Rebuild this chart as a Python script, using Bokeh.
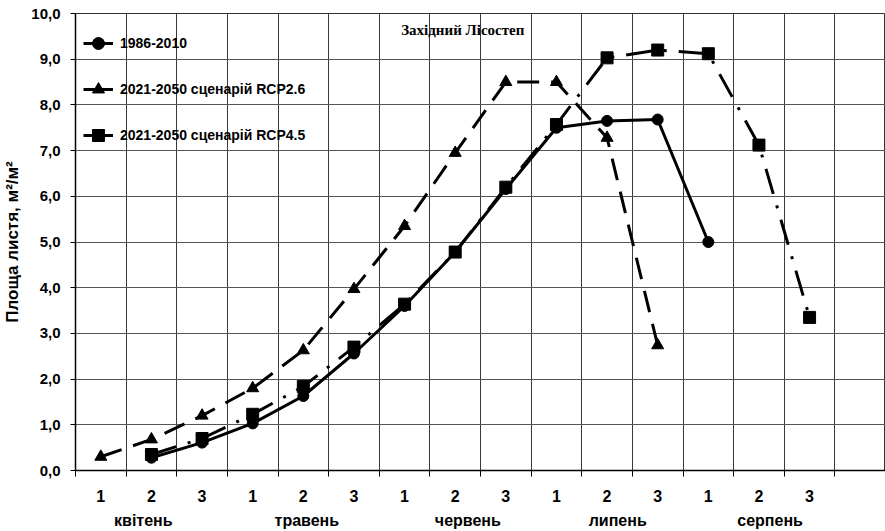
from bokeh.plotting import figure
from bokeh.models import (FixedTicker, LinearAxis, Range1d, Legend, LegendItem, Label,
                          CustomJSTickFormatter)
from bokeh.embed import file_html
from bokeh.resources import INLINE

# ---- data ----
decade_labels = ["1", "2", "3"] * 5 + [""]
months = ["квітень", "травень", "червень", "липень", "серпень"]
month_label_pos = [0.84, 4.07, 7.25, 10.21, 13.22]

base_idx = list(range(1, 13))
base_val = [0.28, 0.61, 1.03, 1.63, 2.56, 3.60, 4.78, 6.16, 7.50, 7.65, 7.68, 5.00]

rcp26_idx = list(range(0, 12))
rcp26_val = [0.30, 0.68, 1.20, 1.80, 2.63, 3.97, 5.35, 6.95, 8.50, 8.50, 7.28, 2.74]

rcp45_idx = list(range(1, 15))
rcp45_val = [0.35, 0.70, 1.23, 1.84, 2.70, 3.64, 4.78, 6.20, 7.57, 9.03, 9.20, 9.12, 7.12, 3.35]

y_ticks = list(range(0, 11))

FONT = "Liberation Sans"
NAN = float("nan")

p = figure(width=885, height=531, output_backend="svg", toolbar_location=None,
           x_range=Range1d(-0.5, 15.5), y_range=Range1d(0, 10),
           min_border_left=75, min_border_top=13, min_border_right=0, min_border_bottom=0)
p.background_fill_color = "white"
p.outline_line_color = "#333333"
p.outline_line_width = 1

# ---- x axis (decades) ----
xa = p.xaxis[0]
xa.ticker = FixedTicker(ticks=list(range(16)), minor_ticks=[i - 0.5 for i in range(17)])
xa.major_label_overrides = {i: decade_labels[i] for i in range(16)}
xa.major_tick_out = 0
xa.major_tick_in = 0
xa.minor_tick_out = 6
xa.minor_tick_in = 0
xa.minor_tick_line_color = "black"
xa.axis_line_color = "black"
xa.axis_line_width = 1.5
xa.major_label_standoff = 13
xa.major_label_text_font = FONT
xa.major_label_text_font_style = "bold"
xa.major_label_text_font_size = "16px"
xa.major_label_text_color = "black"

# ---- month axis ----
ma = LinearAxis(ticker=FixedTicker(ticks=month_label_pos, minor_ticks=[]),
                formatter=CustomJSTickFormatter(args=dict(labels=months, pos=month_label_pos),
                    code="const i = pos.findIndex(v => Math.abs(v - tick) < 1e-6); return i >= 0 ? labels[i] : '';"))
ma.axis_line_color = None
ma.major_tick_line_color = None
ma.major_tick_out = 0
ma.major_tick_in = 0
ma.minor_tick_line_color = None
ma.major_label_standoff = 7
ma.major_label_text_font = FONT
ma.major_label_text_font_style = "bold"
ma.major_label_text_font_size = "16px"
ma.major_label_text_color = "black"
p.add_layout(ma, "below")

# ---- y axis ----
ya = p.yaxis[0]
ya.ticker = FixedTicker(ticks=y_ticks, minor_ticks=[])
ya.major_label_overrides = {v: f"{v},0" for v in y_ticks}
ya.major_tick_out = 5
ya.major_tick_in = 0
ya.major_tick_line_color = "black"
ya.axis_line_color = "black"
ya.axis_line_width = 1.5
ya.major_label_standoff = 10
ya.major_label_text_font = FONT
ya.major_label_text_font_style = "bold"
ya.major_label_text_font_size = "15px"
ya.major_label_text_color = "black"
ya.axis_label = "Площа листя, м²/м²"
ya.axis_label_text_font = FONT
ya.axis_label_text_font_style = "bold"
ya.axis_label_text_font_size = "17px"
ya.axis_label_text_color = "black"
ya.axis_label_standoff = 6

# ---- grid ----
p.xgrid.ticker = FixedTicker(ticks=[i - 0.5 for i in range(17)])
p.xgrid.grid_line_color = "#3a3a3a"
p.xgrid.grid_line_width = 1
p.ygrid.ticker = FixedTicker(ticks=y_ticks)
p.ygrid.grid_line_color = "#555555"
p.ygrid.grid_line_width = 1

LW = 3
# ---- series ----
p.line(base_idx, base_val, line_color="black", line_width=LW)
p.scatter(base_idx, base_val, marker="circle", size=11, color="black")

p.line(rcp26_idx, rcp26_val, line_color="black", line_width=LW, line_dash="22 12")
p.scatter(rcp26_idx, rcp26_val, marker="triangle", size=12, color="black")

p.line(rcp45_idx, rcp45_val, line_color="black", line_width=LW, line_dash="26 12 3 12")
p.scatter(rcp45_idx, rcp45_val, marker="square", size=12, color="black")

# ---- legend (solid sample glyphs, renderers that draw nothing in the plot) ----
l1 = p.line([NAN], [NAN], line_color="black", line_width=LW)
m1 = p.scatter([NAN], [NAN], marker="circle", size=10, color="black")
l2 = p.line([NAN], [NAN], line_color="black", line_width=LW)
m2 = p.scatter([NAN], [NAN], marker="triangle", size=10, color="black")
l3 = p.line([NAN], [NAN], line_color="black", line_width=LW)
m3 = p.scatter([NAN], [NAN], marker="square", size=10, color="black")

legend = Legend(items=[
    LegendItem(label="1986-2010", renderers=[l1, m1]),
    LegendItem(label="2021-2050 сценарій RCP2.6", renderers=[l2, m2]),
    LegendItem(label="2021-2050 сценарій RCP4.5", renderers=[l3, m3]),
], location=(8, 317))
legend.border_line_color = None
legend.background_fill_alpha = 0
legend.padding = 10
legend.margin = 0
legend.glyph_width = 30
legend.glyph_height = 36
legend.label_height = 36
legend.spacing = 10
legend.label_standoff = 7
legend.label_text_font = FONT
legend.label_text_font_style = "bold"
legend.label_text_font_size = "14px"
legend.label_text_color = "black"
p.add_layout(legend)

# ---- title inside plot ----
title = Label(x=7.15, y=9.63, text="Західний Лісостеп", text_align="center",
              text_baseline="middle", text_font="Liberation Serif", text_font_style="bold",
              text_font_size="15px", text_color="black")
p.add_layout(title)

open("out.html", "w").write(file_html(p, INLINE))
